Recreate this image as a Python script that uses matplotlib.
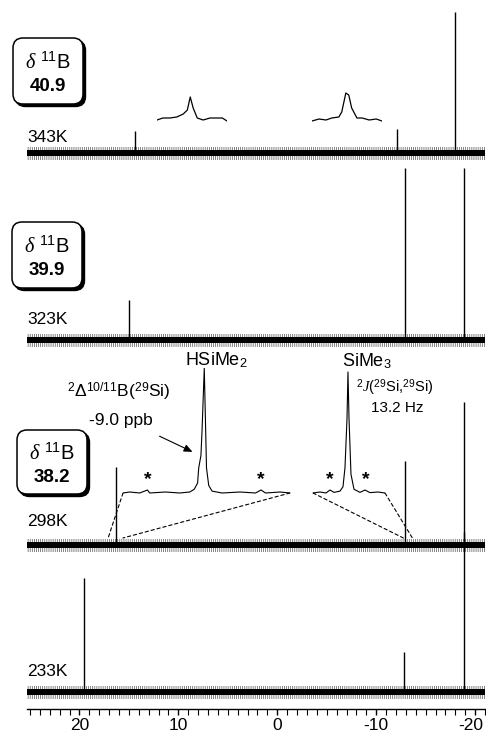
"""
Variable-temperature 29Si NMR stack (343K / 323K / 298K / 233K) with
boron shift labels and expansions of the 298K satellite region.
"""
import matplotlib
matplotlib.use("Agg")
import matplotlib.pyplot as plt
from matplotlib.patches import FancyBboxPatch, ConnectionPatch, FancyArrowPatch
from matplotlib.transforms import Affine2D, ScaledTranslation

plt.rcParams["font.family"] = ["Liberation Sans", "DejaVu Sans"]
plt.rcParams["mathtext.fontset"] = "custom"
plt.rcParams["mathtext.rm"] = "Liberation Sans"
plt.rcParams["mathtext.it"] = "Liberation Serif:italic"
plt.rcParams["mathtext.bf"] = "Liberation Sans:bold"
plt.rcParams["mathtext.sf"] = "Liberation Sans"
plt.rcParams["hatch.linewidth"] = 0.5

W, H = 486, 736

# ---------------------------------------------------------------------------
# Data
# ---------------------------------------------------------------------------
temps = ["343K", "323K", "298K", "233K"]
d11b = ["40.9", "39.9", "38.2", None]

# peak positions (ppm) and heights (in px-like intensity units)
peaks_343 = [14.4, -12.15, -18.0]
heights_343 = [22, 24, 141]
peaks_323 = [15.0, -12.96, -18.85]
heights_323 = [40, 172, 172]
peaks_298 = [16.3, -12.96, -18.9]
heights_298 = [78, 84, 143]
peaks_233 = [19.5, -12.85, -18.9]
heights_233 = [114, 40, 160]

# noise level of the traces (half width, px units)
noise_core = 3.0
noise_spike = 6.5

# 343K expansions (local ppm, intensity)
ins343a_ppm = [15.00, 14.90, 14.78, 14.66, 14.55, 14.48, 14.43, 14.38,
               14.31, 14.21, 14.09, 13.97, 13.88, 13.80]
ins343a_int = [1, 3, 3, 4, 7, 11, 24, 13, 3, 1, 3, 3, 3, 0]
ins343b_ppm = [-11.62, -11.74, -11.86, -11.96, -12.08, -12.13, -12.20,
               -12.25, -12.30, -12.39, -12.48, -12.60, -12.72, -12.82]
ins343b_int = [0, 2, 1, 3, 4, 9, 28, 26, 13, 3, 3, 1, 2, 0]

# 298K expansions (local ppm, intensity)
hsi_ppm = [17.10, 17.04, 16.95, 16.88, 16.86, 16.72, 16.59, 16.50, 16.46,
           16.43, 16.42, 16.40, 16.39, 16.37, 16.36, 16.35, 16.33, 16.30,
           16.21, 16.05, 15.91, 15.86, 15.82, 15.69, 15.60]
hsi_int = [0, 0.8, 0, 2.4, 0, 0.8, 0, 0.8, 3, 8, 20, 30, 50, 100, 60, 20,
           6, 1.5, 0, 0.8, 0, 2.4, 0, 0.8, 0]
sime3_ppm = [-12.750, -12.838, -12.914, -12.965, -13.015, -13.091, -13.129,
             -13.154, -13.180, -13.192, -13.205, -13.230, -13.268, -13.344,
             -13.407, -13.470, -13.572, -13.660]
sime3_int = [0, 0.8, 0, 2.4, 0.5, 1.5, 5, 20, 60, 96.8, 60, 15, 3, 0.5,
             2.4, 0.3, 0.8, 0]

xticks_major = [20, 10, 0, -10, -20]


def main():
    fig = plt.figure(figsize=(W / 100, H / 100), dpi=100)
    PX = Affine2D().scale(1 / W, 1 / H) + fig.transFigure

    def p(x, y):  # pixel position measured from the top-left
        return (x, H - y)

    # main axis: x in ppm, y in pixels above the axis line
    ax = fig.add_axes([27 / W, 27 / H, 458 / W, 709 / H])
    ax.set_xlim(25.3, -21.0)
    ax.set_ylim(0, 709)
    for s in ("top", "left", "right"):
        ax.spines[s].set_visible(False)
    ax.spines["bottom"].set_linewidth(1.0)
    ax.set_yticks([])
    ax.set_xticks(xticks_major)
    ax.set_xticklabels([str(t) for t in xticks_major])
    ax.set_xticks(range(-21, 26), minor=True)
    ax.tick_params(axis="x", which="major", length=4.5, width=1,
                   labelsize=12.5, pad=2)
    ax.tick_params(axis="x", which="minor", length=4, width=0.8)
    last = ax.get_xticklabels()[-1]
    last.set_transform(last.get_transform()
                       + ScaledTranslation(-4 / 100, 0, fig.dpi_scale_trans))

    bases = [556, 369, 164, 17]
    all_peaks = [(peaks_343, heights_343), (peaks_323, heights_323),
                 (peaks_298, heights_298), (peaks_233, heights_233)]
    span = [25.3, -21.0]
    for base, (pp, hh) in zip(bases, all_peaks):
        ax.fill_between(span, base - noise_spike, base + noise_spike,
                        facecolor="none", edgecolor="#555555", lw=0,
                        hatch="||||||||")
        ax.fill_between(span, base - noise_core, base + noise_core,
                        color="black", lw=0)
        ax.vlines(pp, base, [base + h for h in hh], color="black", lw=1.0)

    # temperature labels
    label_y = [137, 320, 522, 671]
    for t, y in zip(temps, label_y):
        fig.text(*p(27, y), t, transform=PX, fontsize=12.5,
                 ha="left", va="center")

    # delta 11B boxes
    boxes = [(13, 38, 70, 66), (12, 222, 70, 66), (17, 430, 70, 64)]
    for (bx, by, bw, bh), val in zip(boxes, d11b):
        shadow = FancyBboxPatch((bx + 2.5, H - by - bh - 2.5), bw, bh,
                                boxstyle="round,pad=0,rounding_size=10",
                                fc="black", ec="black", lw=1,
                                transform=PX)
        box = FancyBboxPatch((bx, H - by - bh), bw, bh,
                             boxstyle="round,pad=0,rounding_size=10",
                             fc="white", ec="black", lw=1.1,
                             transform=PX)
        fig.add_artist(shadow)
        fig.add_artist(box)
        cx = bx + bw / 2
        fig.text(*p(cx, by + bh * 0.36), r"$\delta$ $^{11}$B", transform=PX,
                 fontsize=14.5, ha="center", va="center")
        fig.text(*p(cx, by + bh * 0.74), val, transform=PX, fontsize=13.5,
                 fontweight="bold", ha="center", va="center")

    # 343K expansions
    for (x0, x1, ppm, inten) in [(157, 227, ins343a_ppm, ins343a_int),
                                 (312, 382, ins343b_ppm, ins343b_int)]:
        ia = fig.add_axes([x0 / W, 1 - 124 / H, (x1 - x0) / W, 34 / H])
        ia.plot(ppm, inten, color="black", lw=0.9)
        ia.set_xlim(ppm[0], ppm[-1])
        ia.set_ylim(-3, 31)
        ia.axis("off")

    # 298K expansions
    la = fig.add_axes([123 / W, 1 - 497 / H, 167 / W, 129 / H])
    la.plot(hsi_ppm, hsi_int, color="black", lw=0.8)
    la.set_xlim(17.1, 15.6)
    la.set_ylim(-3.2, 100)
    la.axis("off")

    ra = fig.add_axes([313 / W, 1 - 497 / H, 72 / W, 129 / H])
    ra.plot(sime3_ppm, sime3_int, color="black", lw=0.8)
    ra.set_xlim(-12.75, -13.66)
    ra.set_ylim(-3.2, 100)
    ra.axis("off")

    link_y = bases[2] + 7
    for inset, xa, xb in [(la, 17.1, 17.1), (la, 15.6, 15.6),
                          (ra, -12.75, -12.75), (ra, -13.66, -13.66)]:
        con = ConnectionPatch(xyA=(xa, 0), coordsA=inset.transData,
                              xyB=(xb, link_y), coordsB=ax.transData,
                              ls=(0, (3, 2.5)), lw=0.8, color="black")
        fig.add_artist(con)

    fig.text(*p(216, 360), r"HSiMe$_2$", transform=PX, fontsize=13,
             ha="center", va="center")
    fig.text(*p(367, 361), r"SiMe$_3$", transform=PX, fontsize=13,
             ha="center", va="center")
    fig.text(*p(119, 392), r"$^2\Delta^{10/11}$B($^{29}$Si)", transform=PX,
             fontsize=12.5, ha="center", va="center")
    fig.text(*p(121, 420), "-9.0 ppb", transform=PX, fontsize=12.5,
             ha="center", va="center")
    fig.text(*p(395, 388), r"$^2\mathit{J}$($^{29}$Si,$^{29}$Si)",
             transform=PX, fontsize=10.5, ha="center", va="center")
    fig.text(*p(397, 408), "13.2 Hz", transform=PX, fontsize=11,
             ha="center", va="center")

    for sx in (148, 261, 330, 366):
        fig.text(*p(sx, 480), "*", transform=PX, fontsize=14,
                 fontweight="bold", ha="center", va="center")

    arrow = FancyArrowPatch(p(157, 435), p(195, 453), transform=PX,
                            arrowstyle="-|>,head_length=5,head_width=2.2",
                            lw=0.8, color="black")
    fig.add_artist(arrow)

    fig.savefig("out.png", dpi=100)
    plt.close(fig)


if __name__ == "__main__":
    main()
